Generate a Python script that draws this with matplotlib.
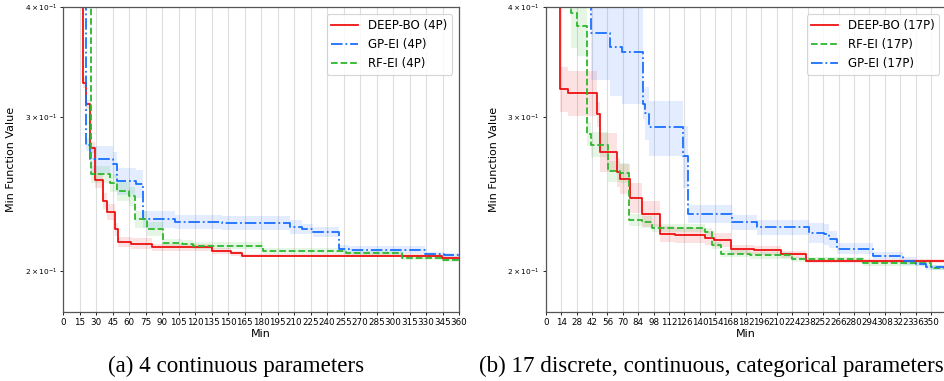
import numpy as np
import matplotlib
matplotlib.use("Agg")
import matplotlib.pyplot as plt

# ---------------- data ----------------
L_end = 360
R_end = 364

L_deep_t = [0, 17.7, 20.7, 24.6, 28.5, 36.4, 39.5, 47, 50, 61.6, 80.5, 135, 153, 162.4, 344.5]
L_deep_v = [0.50, 0.328, 0.310, 0.2766, 0.254, 0.2408, 0.2337, 0.2234, 0.2160, 0.2151, 0.2132, 0.2110, 0.2097, 0.2085, 0.2073]
L_deep_s = [0, 0.004, 0.004, 0.004, 0.005, 0.005, 0.005, 0.004, 0.003, 0.003, 0.002, 0.0015, 0.0015, 0.001, 0.001]

L_gp_t = [0, 20.7, 24.0, 45, 48.6, 66.2, 72.8, 102, 144, 206, 217, 227, 251, 259.5, 329.4, 346]
L_gp_v = [0.50, 0.279, 0.2683, 0.2648, 0.2534, 0.2517, 0.2293, 0.2278, 0.2271, 0.2247, 0.2234, 0.2220, 0.2124, 0.2116, 0.2092, 0.2087]
L_gp_s = [0, 0.0045, 0.0095, 0.009, 0.009, 0.009, 0.005, 0.004, 0.004, 0.004, 0.003, 0.003, 0.002, 0.002, 0.0015, 0.0015]

L_rf_t = [0, 25, 42.5, 48.6, 59.5, 65.3, 76, 91, 108, 118, 182, 257, 308, 345]
L_rf_v = [0.50, 0.2580, 0.2524, 0.2469, 0.2437, 0.2293, 0.2238, 0.2157, 0.2151, 0.2140, 0.2110, 0.2097, 0.2074, 0.2063]
L_rf_s = [0, 0.006, 0.006, 0.006, 0.006, 0.005, 0.004, 0.002, 0.002, 0.002, 0.0015, 0.0015, 0.0015, 0.0015]

R_deep_t = [0, 13, 20.6, 46.5, 49, 64.7, 67.7, 76.8, 87.5, 103.5, 117.8, 145, 152.7, 168, 189, 213.5, 236]
R_deep_v = [0.50, 0.3227, 0.3198, 0.3023, 0.2737, 0.2595, 0.2552, 0.2427, 0.2327, 0.2208, 0.2199, 0.2186, 0.2170, 0.2120, 0.2115, 0.2092, 0.2056]
R_deep_s = [0, 0.019, 0.019, 0.010, 0.014, 0.010, 0.010, 0.0095, 0.008, 0.0045, 0.0045, 0.004, 0.004, 0.0025, 0.0025, 0.002, 0.0012]

R_rf_t = [0, 22.8, 28.8, 37.3, 41, 57, 67.7, 76, 87.5, 96.6, 145, 151, 158.8, 186, 224, 288, 350]
R_rf_v = [0.50, 0.3938, 0.3809, 0.2871, 0.2790, 0.2602, 0.2591, 0.2289, 0.2277, 0.2243, 0.2218, 0.2142, 0.2095, 0.2087, 0.2065, 0.2044, 0.2021]
R_rf_s = [0, 0.034, 0.029, 0.009, 0.009, 0.007, 0.007, 0.0035, 0.0035, 0.0025, 0.0025, 0.002, 0.002, 0.002, 0.0015, 0.0015, 0.0015]

R_gp_t = [0, 41, 58.6, 69.2, 88.4, 90.5, 94, 124.8, 129.5, 169.4, 191.6, 239.2, 253, 257.5, 265, 297, 324.3, 336.4, 345.5]
R_gp_v = [0.50, 0.3743, 0.3608, 0.3556, 0.3106, 0.3031, 0.2919, 0.2707, 0.2327, 0.2277, 0.2247, 0.2214, 0.2204, 0.2176, 0.2124, 0.2085, 0.2057, 0.2042, 0.2022]
R_gp_s = [0, 0.044, 0.044, 0.045, 0.012, 0.021, 0.021, 0.022, 0.0055, 0.0045, 0.0045, 0.006, 0.006, 0.005, 0.003, 0.002, 0.002, 0.0015, 0.0015]

L_xticks = list(range(0, 361, 15))
R_xticks = list(range(0, 351, 14))

captions = ["(a) 4 continuous parameters",
            "(b) 17 discrete, continuous, categorical parameters"]

RED = "#ee1111"
BLUE = "#1a6fff"
GREEN = "#2db82d"

# ---------------- figure ----------------
fig = plt.figure(figsize=(9.45, 3.81), dpi=100)
axL = fig.add_axes([0.067, 0.182, 0.4187, 0.799])
axR = fig.add_axes([0.5775, 0.182, 0.4240, 0.799])


def series(ax, t, v, s, end, color, ls, label):
    t = np.array(t + [end], dtype=float)
    v = np.array(v + [v[-1]], dtype=float)
    s = np.array(s + [s[-1]], dtype=float)
    ax.fill_between(t, v - s, v + s, step="post", color=color, alpha=0.12, lw=0)
    ax.step(t, v, where="post", color=color, ls=ls, lw=1.3, label=label)


series(axL, L_deep_t, L_deep_v, L_deep_s, L_end, RED, "-", "DEEP-BO (4P)")
series(axL, L_gp_t, L_gp_v, L_gp_s, L_end, BLUE, "-.", "GP-EI (4P)")
series(axL, L_rf_t, L_rf_v, L_rf_s, L_end, GREEN, "--", "RF-EI (4P)")

series(axR, R_deep_t, R_deep_v, R_deep_s, R_end, RED, "-", "DEEP-BO (17P)")
series(axR, R_rf_t, R_rf_v, R_rf_s, R_end, GREEN, "--", "RF-EI (17P)")
series(axR, R_gp_t, R_gp_v, R_gp_s, R_end, BLUE, "-.", "GP-EI (17P)")

for ax, ticks, end in ((axL, L_xticks, L_end), (axR, R_xticks, R_end)):
    ax.set_yscale("log")
    ax.set_ylim(0.18, 0.4)
    ax.set_xlim(0, end)
    ax.set_xticks(ticks)
    ax.tick_params(axis="x", labelsize=6.3, length=2.5, pad=2, width=0.6)
    ax.tick_params(axis="y", which="both", labelsize=5.3, length=2.5, width=0.6, pad=2)
    ax.grid(axis="x", color="#dedede", lw=0.8)
    ax.set_axisbelow(True)
    for sp in ax.spines.values():
        sp.set_color("#555555")
        sp.set_linewidth(0.9)
    ax.set_xlabel("Min", fontsize=8, labelpad=1.5)
    ax.set_ylabel("Min Function Value", fontsize=8, labelpad=6)
    leg = ax.legend(loc="upper right", fontsize=8.5, handlelength=2.3,
                    frameon=True, fancybox=True, borderaxespad=0.6)
    leg.get_frame().set_edgecolor("#cccccc")
    leg.get_frame().set_linewidth(0.8)

fig.text(0.2497, 0.024, captions[0], ha="center", va="baseline",
         fontsize=16.6, family="Liberation Serif")
fig.text(0.507, 0.024, captions[1], ha="left", va="baseline",
         fontsize=16.6, family="Liberation Serif")

fig.savefig("out.png", dpi=100)
